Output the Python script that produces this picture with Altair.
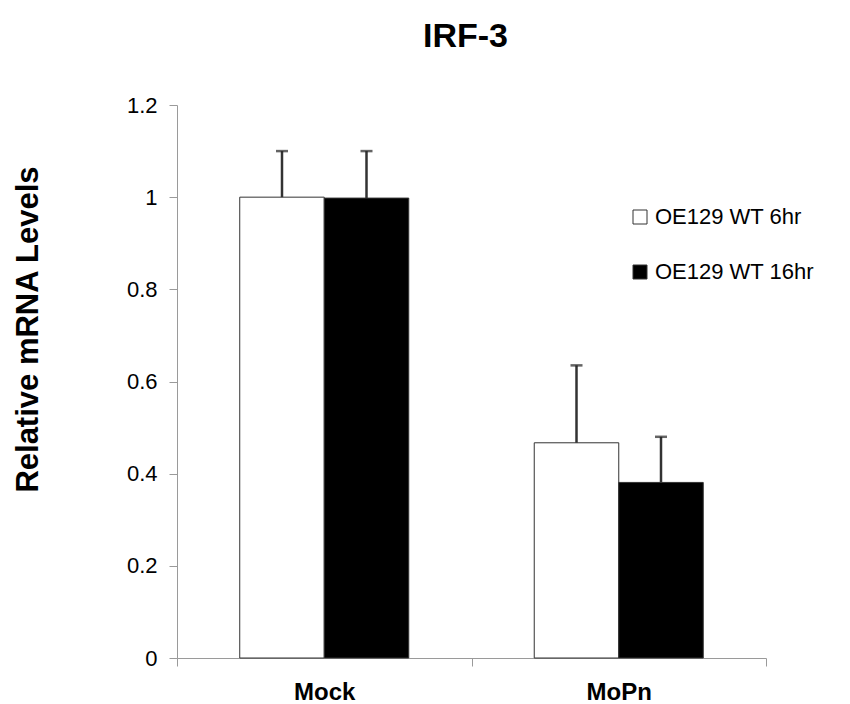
import altair as alt
import pandas as pd

categories = ["Mock", "MoPn"]
series = ["OE129 WT 6hr", "OE129 WT 16hr"]
values_6hr = [1.0, 0.467]
values_16hr = [0.998, 0.381]
errors_6hr = [0.10, 0.168]
errors_16hr = [0.102, 0.099]
y_ticks = [0, 0.2, 0.4, 0.6, 0.8, 1.0, 1.2]

rows = []
for i, c in enumerate(categories):
    rows.append({"cat": c, "series": series[0], "value": values_6hr[i], "err": errors_6hr[i]})
    rows.append({"cat": c, "series": series[1], "value": values_16hr[i], "err": errors_16hr[i]})
df = pd.DataFrame(rows)

FONT = "Liberation Sans"

x_enc = alt.X(
    "cat:N", sort=categories,
    scale=alt.Scale(paddingInner=0, paddingOuter=0),
    axis=alt.Axis(title=None, labelAngle=0, labelFont=FONT, labelFontSize=24,
                  labelFontWeight="bold", labelColor="black", labelPadding=14,
                  domainColor="#9a9a9a", tickColor="#9a9a9a", tickSize=8,
                  tickBand="extent", grid=False),
)
xo_enc = alt.XOffset("series:N", sort=series,
                     scale=alt.Scale(paddingInner=0, paddingOuter=0.7426))

y_scale = alt.Scale(domain=[0, 1.2], nice=False)

base = alt.Chart(df)

bars = base.mark_bar(stroke="#333333", strokeWidth=1).encode(
    x=x_enc,
    xOffset=xo_enc,
    y=alt.Y("value:Q", scale=y_scale,
            axis=alt.Axis(values=y_ticks, format="~g", title="Relative mRNA Levels",
                          titleFont=FONT, titleFontSize=31, titleFontWeight="bold",
                          titleColor="black", titleX=-140, titleY=224, titleAngle=270,
                          titleAlign="center", titleBaseline="alphabetic",
                          labelFont=FONT, labelFontSize=22, labelColor="black",
                          labelPadding=12, domainColor="#9a9a9a", tickColor="#9a9a9a",
                          tickSize=8, grid=False)),
    fill=alt.Fill("series:N", sort=series,
                  scale=alt.Scale(domain=series, range=["white", "black"]),
                  legend=alt.Legend(title=None, orient="none", legendX=452, legendY=101,
                                    symbolType="square", symbolSize=196,
                                    symbolStrokeColor="#333333", symbolStrokeWidth=1,
                                    labelFont=FONT, labelFontSize=22, labelColor="black",
                                    labelOffset=4, rowPadding=33)),
)

err_rule = base.transform_calculate(top="datum.value + datum.err").mark_rule(
    color="#333333", strokeWidth=2.5
).encode(
    x=x_enc, xOffset=xo_enc,
    y=alt.Y("value:Q", scale=y_scale),
    y2="top:Q",
)

err_cap = base.transform_calculate(top="datum.value + datum.err").mark_tick(
    color="#222222", thickness=2.5, size=12
).encode(
    x=x_enc, xOffset=xo_enc,
    y=alt.Y("top:Q", scale=y_scale),
)

chart = alt.layer(bars, err_rule, err_cap).properties(
    width=589, height=553,
    title=alt.TitleParams("IRF-3", font=FONT, fontSize=34, fontWeight="bold",
                          color="black", offset=40, dx=-6),
    autosize="none",
    padding={"left": 169, "top": 97, "right": 60, "bottom": 46},
).configure_view(stroke=None)

chart.save("out.html", embed_options={"renderer": "svg", "actions": False})
